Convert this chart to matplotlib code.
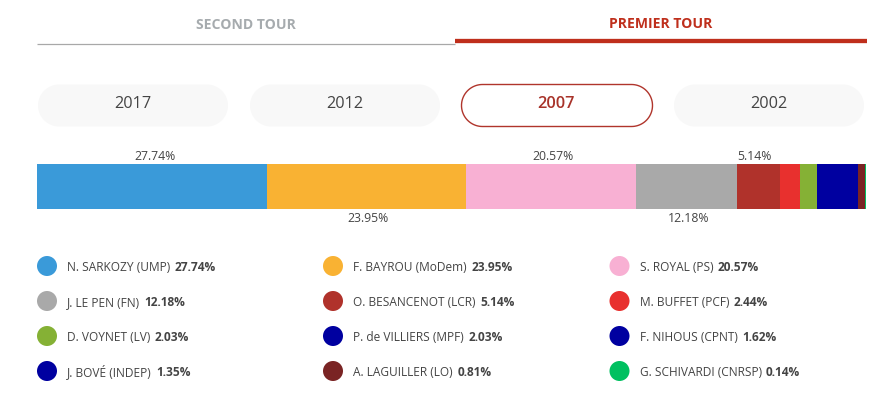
import numpy as np
import matplotlib
matplotlib.use("Agg")
from matplotlib import pyplot as plt
from matplotlib.patches import Circle, Polygon

plt.rcParams['font.family'] = ['Open Sans', 'DejaVu Sans']

names = ["N. SARKOZY (UMP)", "F. BAYROU (MoDem)", "S. ROYAL (PS)",
         "J. LE PEN (FN)", "O. BESANCENOT (LCR)", "M. BUFFET (PCF)",
         "D. VOYNET (LV)", "P. de VILLIERS (MPF)", "F. NIHOUS (CPNT)",
         "J. BOVÉ (INDEP)", "A. LAGUILLER (LO)", "G. SCHIVARDI (CNRSP)"]
scores = [27.74, 23.95, 20.57, 12.18, 5.14, 2.44, 2.03, 2.03, 1.62, 1.35, 0.81, 0.14]
colors = ["#3a9ad9", "#f9b233", "#f8b0d3", "#a9a9a9", "#b0322b", "#e8302e",
          "#85b135", "#0000a0", "#0000a0", "#0000a0", "#7a2424", "#00c060"]
years = ["2017", "2012", "2007", "2002"]
active_year = "2007"

W, H = 894, 414
RED = "#bf2f1c"
TEXT = "#444444"


def pill(x0, x1, y0, y1):
    # outline of a stadium shape, the ends are true half circles
    r = (y1 - y0) / 2
    a = np.linspace(-np.pi / 2, np.pi / 2, 40)
    right = np.c_[x1 - r + r * np.cos(a), y0 + r + r * np.sin(a)]
    lft = np.c_[x0 + r - r * np.cos(a[::-1]), y0 + r + r * np.sin(a[::-1])]
    return np.vstack([right, lft])


fig = plt.figure(figsize=(W / 100, H / 100), dpi=100)

# page layer, in pixels with y going down
page = fig.add_axes([0, 0, 1, 1])
page.set_xlim(0, W)
page.set_ylim(H, 0)
page.axis("off")

# tabs
page.plot([37, 455], [44.5, 44.5], color="#a8a8a8", lw=0.9, solid_capstyle="butt")
page.plot([455, 867], [42, 42], color=RED, lw=3.1, solid_capstyle="butt")
page.text(246, 25, "SECOND TOUR", ha="center", va="center", fontsize=10.1,
          fontweight="bold", color="#a6abae")
page.text(661, 24, "PREMIER TOUR", ha="center", va="center", fontsize=10.1,
          fontweight="bold", color=RED)

# year buttons
pill_x = [38, 250, 461.5, 674]
for year, x in zip(years, pill_x):
    on = year == active_year
    page.add_patch(Polygon(pill(x, x + (191 if on else 190), 85.5, 127.5), closed=True,
                           fc="white" if on else "#f8f8f8",
                           ec="#b0352c" if on else "none", lw=1))
    page.text(x + 94.5, 104.5, year, ha="center", va="center", fontsize=11.7,
              fontweight="semibold" if on else "normal",
              color="#a8332a" if on else TEXT)

# stacked bar
bar = fig.add_axes([37 / W, 1 - 209.5 / H, 829 / W, 45 / H])
bar.set_xlim(0, 100)
bar.set_ylim(0, 1)
bar.axis("off")
left = 0
shown = 0
nudge = [2, 1.5, 1.5, 1.5, -3]
for score, color in zip(scores, colors):
    bar.barh(0.5, score, left=left, height=1, color=color, lw=0)
    if score >= 5:
        above = shown % 2 == 0
        bar.annotate(f"{score:.2f}%", (left + score / 2, 1 if above else 0),
                     xytext=(nudge[shown], 1 if above else -1.5), textcoords="offset points",
                     ha="center", va="bottom" if above else "top",
                     fontsize=8.8, color=TEXT)
        shown += 1
    left += score

# legend
col_x = [47, 333, 619.5]
row_y = [267, 302, 337, 372]
renderer = fig.canvas.get_renderer()
for i, (name, score, color) in enumerate(zip(names, scores, colors)):
    x = col_x[i % 3]
    y = row_y[i // 3]
    page.add_patch(Circle((x, y), 10, fc=color, lw=0))
    t = page.text(x + 20, y + 4, name, ha="left", va="baseline", fontsize=8.6, color=TEXT)
    end = t.get_window_extent(renderer).x1
    page.text(end + 4.5, y + 4, f"{score:.2f}%", ha="left", va="baseline", fontsize=8.6,
              fontweight="bold", color=TEXT)

fig.savefig("out.png", dpi=100)
